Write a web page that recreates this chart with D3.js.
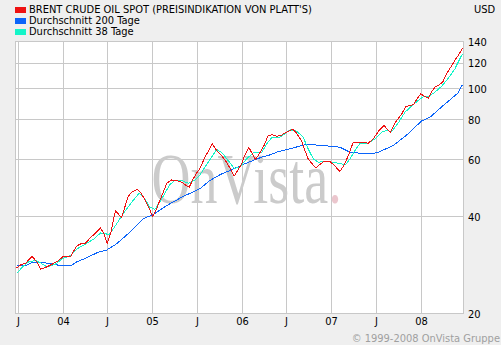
<!DOCTYPE html>
<html>
<head>
<meta charset="utf-8">
<script src="https://cdn.jsdelivr.net/npm/d3@7"></script>
<style>
  html, body { margin: 0; padding: 0; background: #efefef; }
  svg { display: block; }
</style>
</head>
<body>
<svg id="chart" width="501" height="345"></svg>
<script>
// Brent crude spot (Platt's price indication), USD per barrel
const brentDates = ["2003-06-25","2003-07-11","2003-08-01","2003-08-27","2003-09-14","2003-10-01","2003-10-21","2003-11-10","2003-12-07",
  "2004-01-01","2004-01-17","2004-01-31","2004-02-24","2004-03-12","2004-04-01","2004-04-19","2004-05-12","2004-06-01","2004-06-15",
  "2004-06-28","2004-07-12","2004-07-25","2004-08-01","2004-08-12","2004-08-26","2004-09-08","2004-09-22","2004-10-06","2004-10-29",
  "2004-11-11","2004-11-29","2004-12-17","2004-12-31","2005-01-13","2005-01-29","2005-02-12","2005-02-26","2005-03-18","2005-04-07",
  "2005-04-28","2005-05-11","2005-05-29","2005-06-14","2005-06-28","2005-07-11","2005-08-01","2005-08-17","2005-08-31","2005-09-18",
  "2005-10-08","2005-10-28","2005-11-15","2005-11-28","2005-12-12","2005-12-29","2006-01-11","2006-01-27","2006-02-10","2006-02-24",
  "2006-03-13","2006-03-31","2006-04-16","2006-05-02","2006-05-20","2006-06-07","2006-06-23","2006-07-14","2006-07-25","2006-08-10",
  "2006-08-30","2006-09-13","2006-09-26","2006-10-10","2006-10-28","2006-11-13","2006-12-01","2006-12-21","2007-01-04","2007-01-20",
  "2007-02-03","2007-02-19","2007-03-09","2007-03-29","2007-04-18","2007-05-09","2007-05-29","2007-06-19","2007-07-12","2007-08-02",
  "2007-08-13","2007-08-27","2007-09-06","2007-09-22","2007-10-13","2007-10-30","2007-11-18","2007-12-02","2007-12-13","2007-12-29",
  "2008-01-16","2008-01-30","2008-02-12","2008-02-25","2008-03-14","2008-03-28","2008-04-13","2008-05-04","2008-05-21","2008-06-04",
  "2008-06-17"];
const brentValues = [27.7,28.3,28.7,30.1,29.0,27.5,27.8,28.3,29.0,
  30.1,30.1,30.1,32.4,32.9,33.1,34.3,35.6,36.9,35.4,
  33.1,35.4,39.6,41.6,40.8,39.7,42.8,46.2,47.6,48.7,
  47.6,45.1,42.3,40.0,41.8,44.9,47.6,50.8,52.0,51.8,
  51.2,50.3,49.4,52.4,54.6,56.3,61.2,64.2,67.3,64.2,
  61.9,59.0,56.0,53.4,55.6,58.4,62.2,65.7,62.7,60.2,
  63.1,66.8,71.4,71.8,71.1,71.4,72.8,74.0,74.8,72.6,
  68.9,64.2,60.5,58.6,56.7,58.1,59.5,59.5,58.4,56.7,
  55.3,57.7,61.9,68.1,68.1,68.1,67.6,69.8,74.0,76.7,
  75.0,73.0,75.8,79.5,83.4,88.1,88.5,89.6,92.4,96.3,
  94.4,93.3,97.9,100.9,102.7,104.6,111.1,117.9,123.7,128.2,
  133.4];

// 200-day moving average
const avg200Dates = ["2003-06-25","2003-08-01","2003-09-01","2003-10-11","2003-11-21","2003-12-25","2004-01-31","2004-02-24",
  "2004-04-05","2004-05-22","2004-06-26","2004-08-05","2004-10-06","2004-11-22","2005-01-02","2005-02-26","2005-05-04",
  "2005-07-11","2005-08-21","2005-10-08","2005-11-11","2006-01-11","2006-03-20","2006-04-23","2006-05-28","2006-07-14",
  "2006-09-20","2006-11-27","2007-02-03","2007-03-16","2007-05-23","2007-07-03","2007-09-08","2007-11-02","2008-01-02",
  "2008-02-05","2008-03-30","2008-05-28","2008-06-17"];
const avg200Values = [28.3,28.2,28.9,28.8,28.5,28.1,28.1,28.9,
  29.8,31.0,31.5,32.9,36.2,39.4,40.6,43.3,46.2,
  48.8,51.8,54.3,55.6,58.4,61.2,62.2,63.7,65.0,
  67.1,66.5,65.7,63.4,62.7,63.1,66.5,71.7,79.3,
  81.4,88.5,96.6,102.8];

// 38-day moving average
const avg38Dates = ["2003-06-25","2003-07-18","2003-08-14","2003-09-10","2003-10-01","2003-10-27","2003-12-01","2003-12-28",
  "2004-01-31","2004-02-27","2004-04-01","2004-05-05","2004-06-01","2004-06-22","2004-07-05","2004-07-25","2004-08-19",
  "2004-09-15","2004-10-12","2004-11-06","2004-11-29","2004-12-19","2005-01-09","2005-02-05","2005-03-11","2005-03-31",
  "2005-04-28","2005-05-25","2005-06-21","2005-07-11","2005-07-25","2005-08-28","2005-09-18","2005-10-08","2005-11-04",
  "2005-11-28","2005-12-22","2006-01-18","2006-02-18","2006-03-20","2006-04-10","2006-05-02","2006-06-03","2006-06-23",
  "2006-07-14","2006-08-10","2006-09-06","2006-09-26","2006-10-17","2006-11-06","2006-12-04","2007-01-06","2007-02-03",
  "2007-02-27","2007-03-16","2007-04-05","2007-04-25","2007-05-29","2007-06-26","2007-07-23","2007-08-13","2007-09-02",
  "2007-09-29","2007-10-26","2007-11-22","2007-12-19","2008-01-09","2008-01-30","2008-02-25","2008-03-24","2008-04-20",
  "2008-05-17","2008-06-06","2008-06-17"];
const avg38Values = [26.6,27.9,29.0,29.2,28.7,27.9,28.5,29.6,
  30.3,31.8,32.9,34.1,35.6,35.4,35.1,36.8,39.4,
  42.2,44.9,47.3,45.4,42.8,42.1,45.4,50.3,51.8,
  51.8,50.8,52.0,53.7,56.0,61.2,64.6,63.4,59.7,
  56.5,57.0,60.5,63.4,63.1,67.3,70.6,70.6,72.3,
  74.4,73.7,70.6,65.0,60.5,59.0,59.5,59.0,58.4,
  58.1,60.5,64.2,67.3,67.6,69.8,73.2,74.1,73.5,
  78.2,84.4,88.1,91.8,94.4,94.4,97.4,101.7,107.6,
  115.1,123.7,128.2];

const seriesNames = ["BRENT CRUDE OIL SPOT (PREISINDIKATION VON PLATT'S)", "Durchschnitt 200 Tage", "Durchschnitt 38 Tage"];
const seriesColors = ["#ee1111", "#0a64fa", "#14f5c8"];

const yTicks = [20, 40, 60, 80, 100, 120, 140];
const xTickDates = ["2003-07-01","2004-01-01","2004-07-01","2005-01-01","2005-07-01","2006-01-01","2006-07-01","2007-01-01","2007-07-01","2008-01-01"];
const xTickLabels = ["J","04","J","05","J","06","J","07","J","08"];

const parse = d3.utcParse("%Y-%m-%d");
const zip = (dates, values) => dates.map((d, i) => ({ date: parse(d), value: values[i] }));
const brent = zip(brentDates, brentValues);
const avg200 = zip(avg200Dates, avg200Values);
const avg38 = zip(avg38Dates, avg38Values);

// pick a narrow sans face if one is available, otherwise a metric-compatible fallback
function pickFont() {
  const c = document.createElement("canvas").getContext("2d");
  const probe = "DURCHSCHNITT Durchschnitt 200";
  c.font = "11px monospace";
  const mono = c.measureText(probe).width;
  c.font = "11px 'DejaVu Sans Condensed', monospace";
  const cond = c.measureText(probe).width;
  if (Math.abs(cond - mono) > 0.5) return { family: "'DejaVu Sans Condensed'", size: 11 };
  return { family: "'Liberation Sans', Arial", size: 10.5 };
}
const font = pickFont();

const svg = d3.select("#chart");
const plotLeft = 15.5, plotRight = 463.5, plotTop = 41.5, plotBottom = 313.5;

const x = d3.scaleUtc().domain([parse("2003-06-20"), parse("2008-06-21")]).range([plotLeft, plotRight]);
const y = d3.scaleLog().domain([20, 140]).range([plotBottom, plotTop]);
const px = v => Math.floor(v) + 0.5;

svg.append("rect").attr("width", 501).attr("height", 345).attr("fill", "#efefef");

// plot area
svg.append("rect").attr("x", plotLeft).attr("y", plotTop)
  .attr("width", plotRight - plotLeft).attr("height", plotBottom - plotTop)
  .attr("fill", "#ffffff");

const grid = svg.append("g").attr("stroke", "#c8c8c8").attr("stroke-width", 1).attr("shape-rendering", "crispEdges");
grid.selectAll("line.v").data(xTickDates).join("line").attr("class", "v")
  .attr("x1", d => px(x(parse(d)))).attr("x2", d => px(x(parse(d))))
  .attr("y1", plotTop).attr("y2", plotBottom);
grid.selectAll("line.h").data(yTicks).join("line").attr("class", "h")
  .attr("x1", plotLeft).attr("x2", plotRight)
  .attr("y1", d => px(y(d))).attr("y2", d => px(y(d)));
grid.append("rect").attr("x", plotLeft).attr("y", plotTop)
  .attr("width", plotRight - plotLeft).attr("height", plotBottom - plotTop)
  .attr("fill", "none");

// watermark
const wm = svg.append("text")
  .attr("transform", "translate(151.5,203) scale(1,1.32)")
  .attr("font-family", "'Liberation Serif', 'Times New Roman', serif")
  .attr("font-size", 54);
wm.append("tspan").attr("fill", "#cbcbcb").text("OnVista");
wm.append("tspan").attr("fill", "#ebc6cd").text(".");

// series lines
const line = d3.line().x(d => x(d.date)).y(d => y(d.value));
const lines = svg.append("g").attr("fill", "none").attr("stroke-width", 1).attr("shape-rendering", "crispEdges");
lines.append("path").datum(avg200).attr("stroke", seriesColors[1]).attr("d", line);
lines.append("path").datum(avg38).attr("stroke", seriesColors[2]).attr("d", line);
lines.append("path").datum(brent).attr("stroke", seriesColors[0]).attr("d", line);

// axes
const yAxis = d3.axisRight(y).tickValues(yTicks).tickFormat(d3.format("d")).tickSize(0).tickPadding(0);
const gy = svg.append("g").attr("transform", `translate(${plotRight + 4.5},0)`).call(yAxis);
const xAxis = d3.axisBottom(x).tickValues(xTickDates.map(parse)).tickFormat((d, i) => xTickLabels[i]).tickSize(0).tickPadding(0);
const gx = svg.append("g").attr("transform", `translate(0,${plotBottom + 3.5})`).call(xAxis);
[gx, gy].forEach(g => {
  g.select(".domain").remove();
  g.selectAll("text").attr("fill", "#000").attr("font-family", font.family).attr("font-size", font.size);
});
gx.selectAll(".tick").attr("transform", d => `translate(${px(x(d))},0)`);

svg.append("text").attr("x", 474).attr("y", 13).attr("font-family", font.family).attr("font-size", font.size)
  .attr("fill", "#000").text("USD");

// legend
const legend = svg.append("g");
seriesNames.forEach((name, i) => {
  legend.append("rect").attr("x", 15).attr("y", 7 + i * 11).attr("width", 11).attr("height", 6)
    .attr("fill", seriesColors[i]);
  legend.append("text").attr("x", 29).attr("y", 13 + i * 11)
    .attr("font-family", font.family).attr("font-size", font.size).attr("fill", "#000").text(name);
});

svg.append("text").attr("x", 500).attr("y", 342).attr("text-anchor", "end")
  .attr("font-family", font.family).attr("font-size", font.size).attr("fill", "#a0a0a0")
  .text("© 1999-2008 OnVista Gruppe");
</script>
</body>
</html>
